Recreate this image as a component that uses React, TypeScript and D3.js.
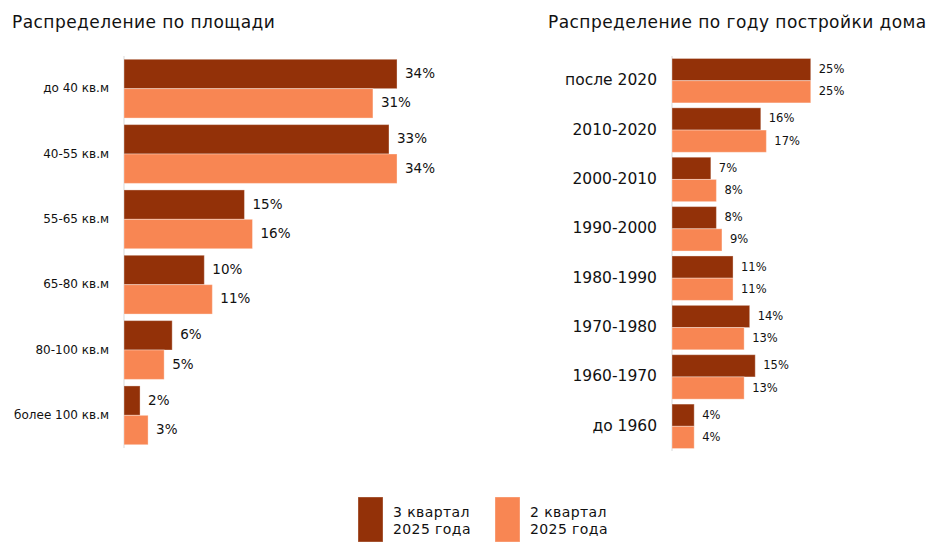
import * as d3 from "d3";

// data
const areaCats = ["до 40 кв.м", "40-55 кв.м", "55-65 кв.м", "65-80 кв.м", "80-100 кв.м", "более 100 кв.м"];
const areaQ3 = [34, 33, 15, 10, 6, 2];
const areaQ2 = [31, 34, 16, 11, 5, 3];

const yearCats = ["после 2020", "2010-2020", "2000-2010", "1990-2000", "1980-1990", "1970-1980", "1960-1970", "до 1960"];
const yearQ3 = [25, 16, 7, 8, 11, 14, 15, 4];
const yearQ2 = [25, 17, 8, 9, 11, 13, 13, 4];

const seriesNames = ["3 квартал\n2025 года", "2 квартал\n2025 года"];
const colors = ["#933108", "#F88653"];

const W = 942, H = 549;
const font = "'DejaVu Sans', sans-serif";

type PanelProps = {
  title: string;
  titleX: number;
  cats: string[];
  q3: number[];
  q2: number[];
  axisX: number;
  pxPerUnit: number;
  yRange: [number, number];
  catSize: number;
  valSize: number;
};

const Panel = ({ title, titleX, cats, q3, q2, axisX, pxPerUnit, yRange, catSize, valSize }: PanelProps) => {
  const y = d3.scaleBand().domain(cats).range(yRange).paddingInner(0.1).paddingOuter(0.05);
  const inner = d3.scaleBand().domain(["q3", "q2"]).range([0, y.bandwidth()]);
  const maxV = d3.max([...q3, ...q2]) as number;
  const x = d3.scaleLinear().domain([0, maxV]).range([axisX, axisX + maxV * pxPerUnit]);
  const series = [
    { key: "q3", vals: q3, color: colors[0] },
    { key: "q2", vals: q2, color: colors[1] },
  ];
  return (
    <g>
      <text x={titleX} y={28} fontSize={17} fontFamily={font} fill="#111" letterSpacing={0.45}>{title}</text>
      <line x1={axisX} x2={axisX} y1={yRange[0]} y2={yRange[1]} stroke="#d9d9d9" strokeWidth={1} />
      {cats.map((c, i) => (
        <g key={c}>
          <text
            x={axisX - 15}
            y={(y(c) as number) + y.bandwidth() / 2}
            textAnchor="end"
            dominantBaseline="middle"
            fontSize={catSize}
            fontFamily={font}
            fill="#111"
          >
            {c}
          </text>
          {series.map((s) => {
            const by = (y(c) as number) + (inner(s.key) as number);
            const v = s.vals[i];
            return (
              <g key={s.key}>
                <rect
                  x={x(0)}
                  y={by}
                  width={x(v) - x(0)}
                  height={inner.bandwidth()}
                  fill={s.color}
                  stroke="#fff"
                  strokeOpacity={0.35}
                  strokeWidth={1}
                />
                <text
                  x={x(v) + 8}
                  y={by + inner.bandwidth() / 2}
                  dominantBaseline="middle"
                  fontSize={valSize}
                  fontFamily={font}
                  fill="#111"
                >
                  {v}%
                </text>
              </g>
            );
          })}
        </g>
      ))}
    </g>
  );
};

const App = () => {
  const legendX = [358, 495];
  return (
    <svg width={W} height={H} style={{ position: "absolute", left: 0, top: 0 }}>
      <rect width={W} height={H} fill="#fff" />
      <Panel
        title="Распределение по площади"
        titleX={12}
        cats={areaCats}
        q3={areaQ3}
        q2={areaQ2}
        axisX={124}
        pxPerUnit={8.03}
        yRange={[56, 448]}
        catSize={12}
        valSize={13.5}
      />
      <Panel
        title="Распределение по году постройки дома"
        titleX={548}
        cats={yearCats}
        q3={yearQ3}
        q2={yearQ2}
        axisX={672}
        pxPerUnit={5.55}
        yRange={[56, 451]}
        catSize={15.5}
        valSize={11.5}
      />
      {seriesNames.map((name, i) => (
        <g key={name}>
          <rect x={legendX[i]} y={497} width={25} height={45} fill={colors[i]} stroke="#fff" strokeOpacity={0.35} />
          {name.split("\n").map((line, j) => (
            <text key={j} x={legendX[i] + 35} y={517 + j * 17} fontSize={14} fontFamily={font} fill="#111" letterSpacing={0.4}>
              {line}
            </text>
          ))}
        </g>
      ))}
    </svg>
  );
};

export default App;
